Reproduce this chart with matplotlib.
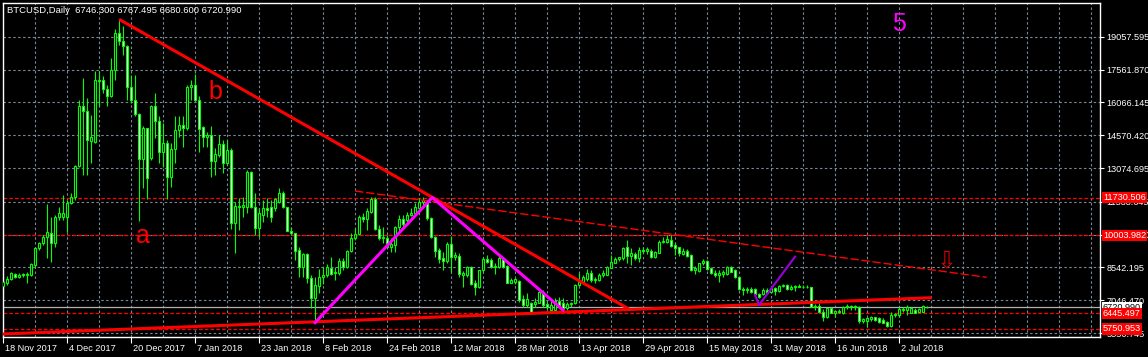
import matplotlib
matplotlib.use('Agg')
import matplotlib.pyplot as plt
import matplotlib.transforms as mtransforms

plt.rcParams['font.family'] = ['Liberation Sans', 'DejaVu Sans']

# daily BTCUSD bars, 18 Nov 2017 .. 9 Jul 2018 (25 Dec and 1 Jan missing)
opens = [7696, 7818, 8000, 8244, 8122, 8244, 8183, 8198, 8654, 9415,
         9643, 9917, 10099, 9643, 10860, 10860, 10860, 11468, 11742, 13171,
         15909, 15681, 14300, 14282, 17096, 17096, 16670, 16335, 17522, 19225,
         18875, 18617, 16761, 16183, 15529, 13476, 14890, 13521, 15879, 15194,
         13826, 14206, 12685, 13947, 14814, 15042, 14890, 16761, 16868, 16183,
         14921, 14480, 14586, 13415, 13673, 14160, 13293, 13902, 10555, 11346,
         11285, 11285, 12913, 11285, 10327, 10936, 11240, 11285, 11241, 11546,
         11956, 11287, 10207, 10101, 9340, 8580, 9142, 8078, 7135, 7713,
         8093, 8199, 8504, 8276, 8306, 8853, 8549, 9295, 9903, 10055,
         10861, 10739, 11089, 11682, 10298, 9872, 9872, 9492, 9568, 10374,
         10739, 10709, 10937, 11013, 11241, 11546, 11500, 10785, 9918, 9340,
         8990, 8853, 9614, 9005, 9066, 8199, 8199, 8580, 7850, 7637,
         8428, 8914, 8884, 8549, 8580, 8960, 8625, 7850, 7895, 7941,
         7089, 6831, 6937, 6876, 6937, 7439, 6876, 6600, 6603, 7028,
         6937, 6679, 6876, 6907, 7728, 7895, 8002, 8276, 7972, 7972,
         8200, 8200, 8504, 8762, 8914, 8960, 9493, 9067, 9158, 8960,
         9340, 9310, 9295, 9006, 9219, 9705, 9721, 9797, 9569, 9462,
         9158, 9310, 9097, 8428, 8397, 8732, 8854, 8504, 8276, 8200,
         8245, 8245, 8580, 8428, 8093, 7576, 7515, 7576, 7546, 7332,
         7332, 7515, 7439, 7591, 7485, 7698, 7743, 7576, 7667, 7698,
         7667, 7637, 7637, 6720, 6785, 6527, 6268, 6679, 6481, 6572,
         6481, 6755, 6785, 6740, 6725, 6116, 6116, 6177, 6268, 6222,
         6146, 6070, 5873, 6375, 6359, 6633, 6603, 6481, 6603, 6527,
         6527, 6746.300]
highs = [8122, 8152, 8350, 8304, 8274, 8304, 8350, 8760, 9491, 9719,
         10023, 11437, 10860, 10936, 11316, 11848, 11620, 11955, 13217, 16183,
         17172, 16259, 15500, 17476, 17506, 17278, 16868, 18084, 19408, 19864,
         19529, 18693, 17324, 17324, 15574, 14966, 14890, 15955, 16487, 15453,
         15118, 14358, 14206, 15453, 15453, 15453, 16868, 17096, 17369, 16335,
         14966, 14738, 14966, 13977, 14586, 14358, 14358, 13977, 11544, 11696,
         11772, 12990, 12958, 11924, 11240, 11620, 11696, 11620, 11698, 12154,
         12048, 11287, 10374, 10101, 9492, 9188, 9188, 8199, 8123, 8458,
         8580, 8686, 9036, 8580, 8960, 8960, 9340, 10101, 10329, 10937,
         11013, 11241, 11774, 11743, 10481, 10405, 10024, 9872, 10435, 10937,
         10937, 11089, 11241, 11470, 11698, 11743, 11622, 10861, 9979, 9416,
         9264, 9720, 9979, 9264, 9188, 8397, 8610, 8610, 7971, 8428,
         9036, 9112, 8960, 8732, 9112, 9036, 8655, 8047, 8047, 7971,
         7287, 7363, 6983, 7135, 7545, 7515, 7028, 7059, 7135, 7181,
         7135, 6983, 6983, 7789, 8276, 8200, 8458, 8428, 8093, 8276,
         8428, 8610, 9112, 9006, 9036, 9493, 9797, 9416, 9264, 9462,
         9493, 9493, 9371, 9310, 9797, 9949, 10025, 10025, 9645, 9493,
         9416, 9371, 9158, 8610, 8762, 8914, 8884, 8550, 8428, 8428,
         8428, 8610, 8610, 8458, 8124, 7637, 7637, 7637, 7591, 7394,
         7591, 7591, 7637, 7667, 7743, 7789, 7789, 7743, 7743, 7789,
         7743, 7743, 7667, 6900, 6937, 6633, 6725, 6755, 6603, 6633,
         6785, 6877, 6830, 6830, 6785, 6222, 6298, 6329, 6298, 6298,
         6222, 6116, 6527, 6481, 6725, 6725, 6830, 6725, 6679, 6679,
         6830, 6767.495]
lows = [7392, 7742, 7970, 8046, 8076, 8120, 7848, 8150, 8578, 9339,
        9567, 8958, 8806, 9491, 10708, 10708, 10175, 11437, 11620, 13141,
        12761, 12761, 13300, 14200, 15879, 16500, 15879, 16300, 17096, 18662,
        18236, 16183, 16031, 15423, 10677, 12152, 11650, 13450, 14434, 13293,
        13141, 11650, 12229, 13293, 14510, 14054, 14814, 16183, 16183, 13826,
        14054, 14054, 12685, 12761, 13597, 12837, 13217, 10281, 9217, 10251,
        10860, 11012, 11240, 10023, 9947, 10606, 10860, 10631, 11135, 11470,
        11250, 10200, 10024, 8884, 8123, 8123, 7850, 6678, 5994, 7363,
        7789, 8123, 8199, 7971, 8199, 8428, 8504, 9264, 9796, 10024,
        10600, 10253, 11013, 10253, 9796, 9644, 9416, 9264, 9264, 10101,
        10405, 10633, 10892, 10937, 11165, 11393, 10709, 9872, 9036, 8732,
        8428, 8732, 8352, 8884, 8123, 7667, 8123, 7743, 7287, 7591,
        8352, 8732, 8504, 8245, 8504, 8504, 7819, 7819, 7789, 6983,
        6754, 6754, 6450, 6754, 6906, 6754, 6603, 6527, 6527, 6785,
        6572, 6603, 6755, 6876, 7698, 7819, 7941, 7895, 7850, 7941,
        8124, 8200, 8504, 8732, 8854, 8884, 8732, 8656, 8884, 8808,
        9188, 9158, 8960, 8960, 9188, 9645, 9645, 9493, 9112, 9067,
        9112, 9006, 8397, 8245, 8352, 8656, 8428, 8245, 8124, 7895,
        8124, 8200, 8352, 8048, 7515, 7287, 7363, 7363, 7287, 7135,
        7287, 7332, 7363, 7287, 7439, 7637, 7515, 7515, 7485, 7637,
        7591, 7591, 6725, 6600, 6481, 6116, 6222, 6451, 6298, 6481,
        6420, 6633, 6603, 6603, 5994, 5994, 5843, 6116, 6116, 5994,
        5994, 5812, 5843, 6298, 6298, 6527, 6375, 6451, 6451, 6511,
        6511, 6680.600]
closes = [7894, 8000, 8274, 8122, 8213, 8183, 8244, 8685, 9415, 9643,
          9917, 10145, 9643, 10860, 11012, 11042, 11468, 11742, 13171, 15909,
          15681, 14328, 14500, 17096, 17020, 16670, 16335, 17552, 19225, 18845,
          18617, 16761, 16183, 15529, 13476, 14890, 12639, 15879, 15194, 13826,
          14206, 12685, 13947, 14814, 15042, 14890, 16761, 16868, 16183, 14845,
          14510, 14586, 13415, 13719, 14160, 13293, 13902, 10555, 11346, 11285,
          11392, 12913, 11316, 10327, 11012, 11240, 11164, 10860, 11652, 11956,
          11287, 10207, 10101, 9310, 8580, 9142, 8078, 7135, 7743, 8093,
          8199, 8580, 8245, 8352, 8853, 8549, 9295, 9903, 10055, 10861,
          10755, 11135, 11682, 10283, 9872, 9918, 9492, 9614, 10374, 10739,
          10527, 10937, 11044, 11287, 11546, 11622, 10785, 9918, 9310, 8929,
          8853, 9614, 9005, 9112, 8245, 8306, 8580, 7789, 7637, 8428,
          8914, 8808, 8549, 8625, 8960, 8580, 7850, 7971, 8002, 7059,
          6831, 7089, 6481, 6983, 7439, 6831, 6755, 6831, 7028, 6831,
          6679, 6876, 6937, 7728, 7895, 8124, 8276, 7972, 8017, 8200,
          8276, 8550, 8808, 8930, 9006, 9447, 9067, 9188, 8960, 9340,
          9280, 9371, 9006, 9264, 9705, 9766, 9827, 9538, 9447, 9188,
          9310, 9067, 8428, 8504, 8732, 8854, 8458, 8276, 8200, 8276,
          8352, 8550, 8352, 8093, 7576, 7515, 7576, 7439, 7332, 7211,
          7515, 7394, 7591, 7485, 7698, 7743, 7546, 7667, 7698, 7667,
          7637, 7667, 6755, 6800, 6527, 6268, 6679, 6481, 6572, 6511,
          6755, 6785, 6740, 6785, 6116, 6177, 6222, 6298, 6146, 6070,
          6025, 5873, 6375, 6420, 6633, 6603, 6725, 6679, 6481, 6633,
          6785, 6720.990]

date_labels = ['18 Nov 2017', '4 Dec 2017', '20 Dec 2017', '7 Jan 2018', '23 Jan 2018',
               '8 Feb 2018', '24 Feb 2018', '12 Mar 2018', '28 Mar 2018', '13 Apr 2018',
               '29 Apr 2018', '15 May 2018', '31 May 2018', '16 Jun 2018', '2 Jul 2018']
price_ticks = [5550.745, 7046.470, 8542.195, 10037.920, 11533.645,
               13074.695, 14570.420, 16066.145, 17561.870, 19057.595]
levels = [11730.506, 10003.982, 6445.497, 5750.953]
bid = 6720.990

# drawn objects: (bar index, price)
upper_x, upper_y = [29, 156.75], [19850, 6620]
lower_x, lower_y = [-1, 232.25], [5504, 7165]
thin_x, thin_y = [88, 245.9], [12026, 8094]
magenta_x, magenta_y = [78, 107.3, 140], [6026, 11730, 6604]
violet_x, violet_y = [188, 189, 198], [7288, 6832, 9033]

GREEN = '#00FF00'
GRID = '#778899'

fig = plt.figure(figsize=(11.48, 3.57), dpi=100, facecolor='black')
ax = fig.add_axes([2.7/1148, 20.5/357, 1097.3/1148, 333.8/357])
ax.set_facecolor('black')
ax.set_xlim(-0.1, 274.25)
ax.set_ylim(5397, 20607)

# grid
for p in price_ticks:
    ax.axhline(p, color=GRID, lw=0.8, dashes=(2.2, 2.2), zorder=1)
for gx in range(0, 275, 8):
    ax.axvline(gx, color=GRID, lw=0.8, dashes=(2.2, 2.2), zorder=1)
for lv in levels:
    ax.axhline(lv, color='red', lw=0.9, dashes=(3, 1.6), zorder=1.2)
ax.axhline(bid, color='#B0B0B0', lw=0.9, zorder=1.3)

# candles
xs = list(range(len(opens)))
lo = [min(l, o, c) for l, o, c in zip(lows, opens, closes)]
hi = [max(h, o, c) for h, o, c in zip(highs, opens, closes)]
ax.vlines(xs, lo, hi, color=GREEN, lw=0.8, zorder=2)
bottoms = [min(o, c) for o, c in zip(opens, closes)]
heights = [max(abs(c - o), 1) for o, c in zip(opens, closes)]
fills = ['black' if c >= o else 'white' for o, c in zip(opens, closes)]
ax.bar(xs, heights, bottom=bottoms, width=0.55, color=fills,
       edgecolor=GREEN, linewidth=0.8, zorder=3)

# trend lines
ax.plot(upper_x, upper_y, color='red', lw=2.2, zorder=4, solid_capstyle='butt')
ax.plot(lower_x, lower_y, color='red', lw=2.2, zorder=4, solid_capstyle='butt')
ax.plot(thin_x, thin_y, color='red', lw=1.0, dashes=(6, 2), zorder=4)
ax.plot(magenta_x, magenta_y, color='#FF00FF', lw=2.2, zorder=4)
ax.plot(violet_x, violet_y, color='#9400D3', lw=1.6, zorder=4)

ax.text(35.07, 9644, 'a', color='red', fontsize=18, ha='center', va='baseline', zorder=5)
ax.text(53, 16205, 'b', color='red', fontsize=18, ha='center', va='baseline', zorder=5)
ax.text(224.07, 19331, '5', color='#FF00FF', fontsize=18, ha='center', va='baseline', zorder=5)
ax.text(235.9, 8882, '\u21e9', color='#D00000', fontsize=17, ha='center', va='center',
        family=['DejaVu Sans'], zorder=5)

ax.text(4.3/1097.3, 1 - 7.7/333.8, 'BTCUSD,Daily  6746.300 6767.495 6680.600 6720.990',
        transform=ax.transAxes, color='white', fontsize=6.8, va='center', ha='left', zorder=6)

# axes styling
for s in ax.spines.values():
    s.set_color('white')
    s.set_linewidth(1)
ax.yaxis.tick_right()
ax.set_yticks(price_ticks)
ax.set_yticklabels(['%.3f' % p for p in price_ticks])
ax.set_xticks(range(0, 16 * len(date_labels), 16))
ax.set_xticklabels(date_labels)
ax.tick_params(colors='white', labelsize=6.6, length=3, width=0.8, pad=1.5)
ax.tick_params(axis='x', length=4)
shift = mtransforms.ScaledTranslation(2/100, 0, fig.dpi_scale_trans)
for lab in ax.get_xticklabels():
    lab.set_horizontalalignment('left')
    lab.set_transform(lab.get_transform() + shift)

# price boxes on the right scale
boxtr = ax.get_yaxis_transform() + mtransforms.ScaledTranslation(3/100, 0, fig.dpi_scale_trans)
ax.text(1.0, bid, '%.3f' % bid, transform=boxtr, color='black', fontsize=6.6,
        ha='left', va='center', zorder=7, clip_on=False,
        bbox=dict(boxstyle='square,pad=0.15', fc='white', ec='none'))
for lv in levels:
    ax.text(1.0, lv, '%.3f' % lv, transform=boxtr, color='white', fontsize=6.6,
            ha='left', va='center', zorder=8, clip_on=False,
            bbox=dict(boxstyle='square,pad=0.15', fc='red', ec='none'))

fig.savefig('out.png', dpi=100, facecolor='black')
